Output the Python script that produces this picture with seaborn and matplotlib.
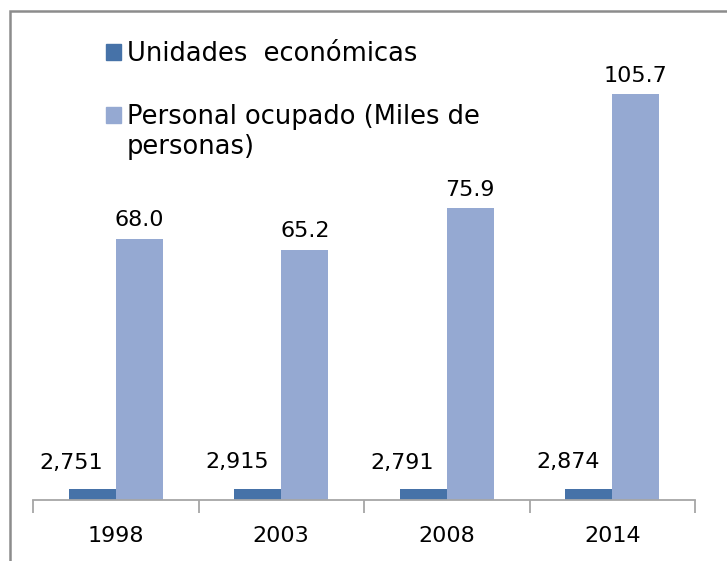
import matplotlib
matplotlib.use("Agg")
import matplotlib.pyplot as plt
import matplotlib.patches as mpatches
import pandas as pd
import seaborn as sns

# datos
anios = ["1998", "2003", "2008", "2014"]
unidades = [2751, 2915, 2791, 2874]
personal = [68.0, 65.2, 75.9, 105.7]
series = ["Unidades  económicas", "Personal ocupado (Miles de"]
colores = ["#4672A8", "#95A9D2"]

sns.set_style("white")
plt.rcParams["font.family"] = ["DejaVu Sans"]
plt.rcParams["text.color"] = "black"
plt.rcParams["xtick.color"] = "black"

df = pd.DataFrame({
    "anio": anios * 2,
    "serie": [series[0]] * 4 + [series[1]] * 4,
    # unidades en miles para que compartan eje
    "valor": [u / 1000 for u in unidades] + personal,
})

fig = plt.figure(figsize=(7.27, 5.61), dpi=100)
ax = fig.add_axes([33 / 727, 61 / 561, 662 / 727, 461 / 561])

sns.barplot(data=df, x="anio", y="valor", hue="serie", palette=colores,
            width=0.57, saturation=1, linewidth=0, edgecolor="none",
            ax=ax, legend=False)

ax.set_xlim(-0.5, 3.5)
ax.set_ylim(0, 120)
ax.set_xlabel("")
ax.set_ylabel("")
ax.set_yticks([])
for s in ["left", "right", "top"]:
    ax.spines[s].set_visible(False)
ax.spines["bottom"].set_color("#A6A6A6")
ax.spines["bottom"].set_linewidth(1.3)
ax.set_xticks([-0.5, 0.5, 1.5, 2.5, 3.5], minor=True)
ax.tick_params(axis="x", which="minor", bottom=True, length=9, width=1.3,
               color="#A6A6A6", direction="out")
ax.tick_params(axis="x", which="major", length=0, pad=19, labelsize=16,
               labelcolor="black")

# etiquetas de personal ocupado
ax.bar_label(ax.containers[1], labels=[f"{v:.1f}" for v in personal],
             padding=6, fontsize=16, color="black")

# etiquetas de unidades económicas (a la izquierda)
for barra, u in zip(ax.containers[0], unidades):
    cx = barra.get_x() + barra.get_width() / 2
    ax.annotate(f"{u:,}", (cx, barra.get_height()), xytext=(8, 12),
                textcoords="offset points", ha="right", va="bottom",
                fontsize=16, color="black")

# leyenda
handles = [mpatches.Rectangle((0, 0), 1, 1, color=c) for c in colores]
fig.legend(handles, series, loc="upper left",
           bbox_to_anchor=(106 / 727, 1 - 41 / 561),
           frameon=False, fontsize=18.5, handlelength=0.6, handleheight=0.6,
           handletextpad=0.2, labelspacing=1.45, borderpad=0, borderaxespad=0)
fig.text(127 / 727, 1 - 147 / 561, "personas)", fontsize=18.5,
         va="center", ha="left")

# marco del gráfico
fig.patches.append(mpatches.Rectangle((10 / 727, -0.1), 1.2, 1.1 - 11 / 561,
                                      transform=fig.transFigure, fill=False,
                                      edgecolor="#8C8C8C", linewidth=1.8))

fig.savefig("out.png", dpi=100)
